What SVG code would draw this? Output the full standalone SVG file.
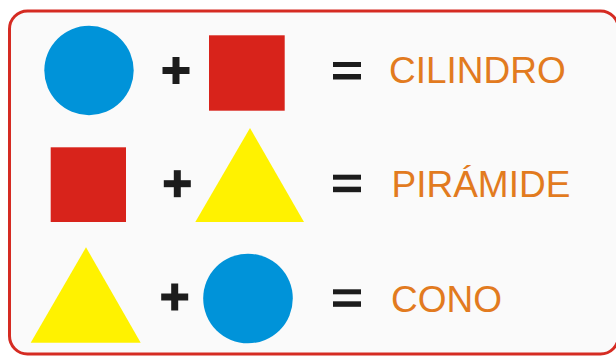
<svg xmlns="http://www.w3.org/2000/svg" width="616" height="356" viewBox="0 0 616 356">
  <style>
    .frame { fill: #FAFAFA; stroke: #D52B22; stroke-width: 3; }
    .blue { fill: #0093D9; }
    .red { fill: #D8231B; }
    .yellow { fill: #FFF200; }
    .op { fill: #1C1C1C; }
    .label { fill: #E27B1F; font-family: "Liberation Sans", Arial, sans-serif; font-size: 37px; }
  </style>
  <defs>
    <g id="plus">
      <rect x="-13.5" y="-3.5" width="27" height="7"/>
      <rect x="-3.5" y="-13.5" width="7" height="27"/>
    </g>
    <g id="equals">
      <rect x="0" y="0" width="28" height="5"/>
      <rect x="0" y="12" width="28" height="5.5"/>
    </g>
  </defs>
  <rect width="616" height="356" fill="#FFFFFF"/>
  <rect class="frame" x="9.5" y="11" width="609" height="343" rx="18" ry="18"/>

  <g id="row1">
    <g id="circle1"><circle class="blue" cx="89" cy="70.5" r="44.7"/></g>
    <g id="plus1" class="op"><use href="#plus" x="176" y="70.5"/></g>
    <g id="square1"><rect class="red" x="209" y="35.3" width="75.7" height="75.4"/></g>
    <g id="equals1" class="op"><use href="#equals" x="333" y="62"/></g>
    <g id="label1"><text class="label" x="389" y="83.3">CILINDRO</text></g>
  </g>

  <g id="row2">
    <g id="square2"><rect class="red" x="50.7" y="147.3" width="75.3" height="74.7"/></g>
    <g id="plus2" class="op"><use href="#plus" x="177.3" y="183.7"/></g>
    <g id="triangle2"><polygon class="yellow" points="195.3,222 304,222 250,128"/></g>
    <g id="equals2" class="op"><use href="#equals" x="333" y="174.7"/></g>
    <g id="label2"><text class="label" x="391.5" y="196.7">PIRÁMIDE</text></g>
  </g>

  <g id="row3">
    <g id="triangle3"><polygon class="yellow" points="30.7,342.7 140.7,342.7 86,247.3"/></g>
    <g id="plus3" class="op"><use href="#plus" x="174.7" y="297"/></g>
    <g id="circle3"><circle class="blue" cx="248" cy="298.5" r="44.8"/></g>
    <g id="equals3" class="op"><use href="#equals" x="333" y="289.3"/></g>
    <g id="label3"><text class="label" x="391" y="312">CONO</text></g>
  </g>

  <g id="connectors"/>
</svg>
